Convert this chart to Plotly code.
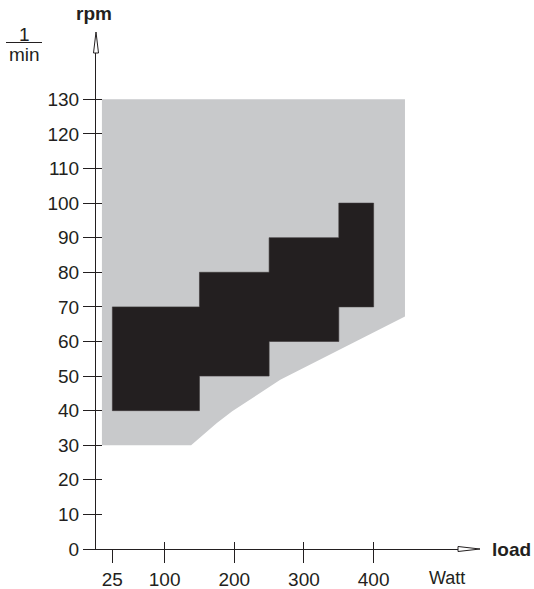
import plotly.graph_objects as go

# operating envelope (gray area)
env_left = 10
env_right = 445
env_top = 130
env_floor = 30
lower_x = [138, 175, 197, 266, 445]
lower_y = [30, 36.4, 39.8, 48.9, 67.2]

# recommended steps (black area)
step_start = [25, 150, 250, 350]
step_end = [150, 250, 350, 400]
step_low = [40, 50, 60, 70]
step_high = [70, 80, 90, 100]

x_ticks = [25, 100, 200, 300, 400]
y_ticks = list(range(0, 131, 10))

_INK = "#231f20"
_GRAY = "#c8c9cb"
_FONT = "Liberation Sans, Arial, sans-serif"

# gray polygon
gx = [env_left, env_left] + lower_x + [env_right, env_left]
gy = [env_top, env_floor] + lower_y + [env_top, env_top]

# black stepped polygon: lower staircase left->right, upper staircase right->left
bx, by = [], []
for s, e, lo in zip(step_start, step_end, step_low):
    bx += [s, e]
    by += [lo, lo]
for s, e, hi in reversed(list(zip(step_start, step_end, step_high))):
    bx += [e, s]
    by += [hi, hi]
bx.append(bx[0])
by.append(by[0])

fig = go.Figure()
fig.add_trace(go.Scatter(x=gx, y=gy, mode="lines", fill="toself", fillcolor=_GRAY,
                         line=dict(width=0), hoverinfo="skip", showlegend=False))
fig.add_trace(go.Scatter(x=bx, y=by, mode="lines", fill="toself", fillcolor=_INK,
                         line=dict(width=0.6, color="#3a3637"), hoverinfo="skip", showlegend=False))
# dummy trace for the overlay axes that carry the inner tick stubs
fig.add_trace(go.Scatter(x=[None], y=[None], xaxis="x2", yaxis="y2", showlegend=False, hoverinfo="skip"))

x_range = [1.5, 521.1]
y_range = [0, 143.4]

fig.update_layout(
    width=534,
    height=589,
    margin=dict(l=96, r=76, t=53, b=40),
    paper_bgcolor="white",
    plot_bgcolor="white",
    font=dict(family=_FONT, color=_INK, size=19),
    xaxis=dict(
        range=x_range, tickvals=x_ticks, ticks="outside", ticklen=13, tickcolor=_INK,
        showline=True, linecolor=_INK, linewidth=1, showgrid=False, zeroline=False,
        tickfont=dict(size=19, color=_INK), automargin=False,
    ),
    yaxis=dict(
        range=y_range, tickvals=y_ticks, ticks="outside", ticklen=12, tickcolor=_INK,
        showline=True, linecolor=_INK, linewidth=1, showgrid=False, zeroline=False,
        tickfont=dict(size=19, color=_INK), automargin=False,
    ),
    xaxis2=dict(
        range=x_range, overlaying="x", anchor="y", tickvals=x_ticks[1:], ticks="inside",
        ticklen=7, tickcolor=_INK, showticklabels=False, showline=False, showgrid=False,
        zeroline=False, automargin=False,
    ),
    yaxis2=dict(
        range=y_range, overlaying="y", anchor="x", tickvals=y_ticks[1:], ticks="inside",
        ticklen=6, tickcolor=_INK, showticklabels=False, showline=False, showgrid=False,
        zeroline=False, automargin=False,
    ),
)

# axis arrowheads (hollow, narrow)
fig.add_shape(type="path", xref="paper", yref="paper", xsizemode="pixel", ysizemode="pixel",
              xanchor=0, yanchor=1, path="M-2.5,0 L0,21 L2.5,0 Z",
              line=dict(color=_INK, width=1), fillcolor="white")
fig.add_shape(type="path", xref="paper", yref="paper", xsizemode="pixel", ysizemode="pixel",
              xanchor=1, yanchor=0, path="M0,-2.5 L22,0 L0,2.5 Z",
              line=dict(color=_INK, width=1), fillcolor="white")

# 1/min fraction bar
fig.add_shape(type="line", xref="paper", yref="paper", xsizemode="pixel", ysizemode="pixel",
              xanchor=0, yanchor=1, x0=-90, x1=-54, y0=10.5, y1=10.5,
              line=dict(color=_INK, width=1))

def label(text, x, y, dx, dy, anchor="center", size=19):
    fig.add_annotation(text=text, xref="paper", yref="paper", x=x, y=y, xshift=dx, yshift=dy,
                       xanchor=anchor, yanchor="middle", showarrow=False,
                       font=dict(size=size, color=_INK))

label("<b>rpm</b>", 0, 1, -2, 40)
label("1", 0, 1, -72, 19)
label("min", 0, 1, -72, -1)
label("<b>load</b>", 1, 0, 32, 0, anchor="left")
label("Watt", 1, 0, -11, -29, size=18)

fig.write_html("out.html", config={"displayModeBar": False},
               post_script="document.body.style.margin='0';")
